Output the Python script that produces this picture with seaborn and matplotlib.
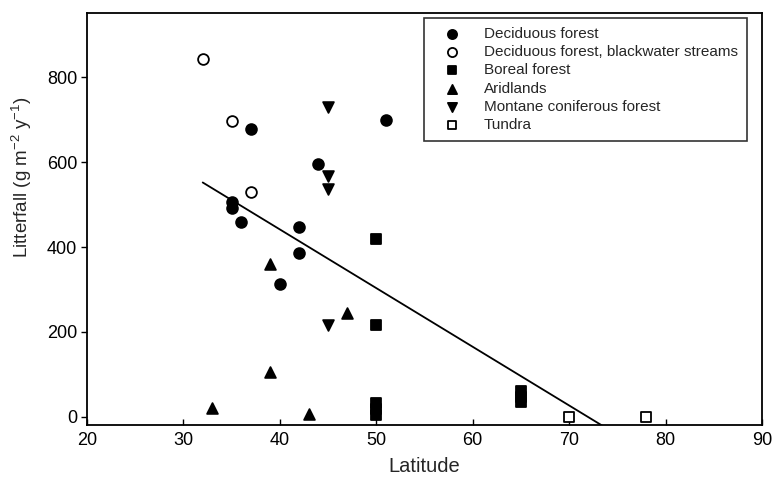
import numpy as np
import pandas as pd
import matplotlib
matplotlib.use("Agg")
import matplotlib.pyplot as plt
import seaborn as sns

# Data
dec_lat = [37, 51, 44, 35, 35, 36, 42, 42, 40]
dec_lit = [678, 700, 595, 507, 491, 460, 448, 385, 314]

black_lat = [32, 35, 37]
black_lit = [843, 697, 529]

boreal_lat = [50, 50, 50, 50, 50, 65, 65, 65]
boreal_lit = [418, 216, 32, 18, 5, 62, 48, 36]

arid_lat = [39, 47, 39, 33, 43]
arid_lit = [359, 245, 105, 20, 7]

montane_lat = [45, 45, 45, 45]
montane_lit = [730, 567, 536, 216]

tundra_lat = [70, 78]
tundra_lit = [1, 1]

# regression line endpoints
fit_lat = [32, 73.4]
fit_lit = [552, -20]

x_ticks = [20, 30, 40, 50, 60, 70, 80, 90]
y_ticks = [0, 200, 400, 600, 800]

groups = [
    ("Deciduous forest", dec_lat, dec_lit, "o", True, 60),
    ("Deciduous forest, blackwater streams", black_lat, black_lit, "o", False, 60),
    ("Boreal forest", boreal_lat, boreal_lit, "s", True, 45),
    ("Aridlands", arid_lat, arid_lit, "^", True, 60),
    ("Montane coniferous forest", montane_lat, montane_lit, "v", True, 60),
    ("Tundra", tundra_lat, tundra_lit, "s", False, 50),
]

sns.set_theme(style="white")
plt.rcParams['font.family'] = ['Liberation Sans', 'DejaVu Sans']
plt.rcParams['mathtext.fontset'] = 'custom'
plt.rcParams['mathtext.rm'] = 'Liberation Sans'
plt.rcParams['mathtext.it'] = 'Liberation Sans'

fig = plt.figure(figsize=(7.74, 4.88), dpi=100)
ax = fig.add_axes([87/774, 1-425/488, (762-87)/774, (425-13)/488])

for name, xs, ys, m, filled, s in groups:
    df = pd.DataFrame({"lat": xs, "lit": ys})
    sns.scatterplot(data=df, x="lat", y="lit", ax=ax, marker=m, s=s,
                    color="black" if filled else "white", edgecolor="black",
                    linewidth=1.3, label=name, zorder=3)

sns.lineplot(x=fit_lat, y=fit_lit, ax=ax, color="black", linewidth=1.3, zorder=2)

ax.set_xlim(20, 90)
ax.set_ylim(-19, 951)
ax.set_xticks(x_ticks)
ax.set_yticks(y_ticks)
ax.tick_params(axis='both', labelsize=13, colors='black')
ax.tick_params(axis='x', direction='in', length=4, width=1, bottom=True, pad=5)
ax.tick_params(axis='y', direction='out', length=4, width=1, left=True, pad=3)
for sp in ax.spines.values():
    sp.set_color('black')
    sp.set_linewidth(1.3)

ax.set_xlabel("Latitude", fontsize=14.5, labelpad=6)
ax.set_ylabel(r"Litterfall (g m$^{-2}$ y$^{-1}$)", fontsize=13.5, labelpad=8)
ax.yaxis.set_label_coords(-0.078, 0.6)

leg = ax.legend(loc="upper right", bbox_to_anchor=(747/774, 1-18/488),
                bbox_transform=fig.transFigure, borderaxespad=0,
                fontsize=11, frameon=True, fancybox=False,
                edgecolor="black", handlelength=2.4, handletextpad=0.9,
                labelspacing=0.27, borderpad=0.6, markerscale=0.85)
leg.get_frame().set_linewidth(1.2)

fig.savefig("out.png", dpi=100)
